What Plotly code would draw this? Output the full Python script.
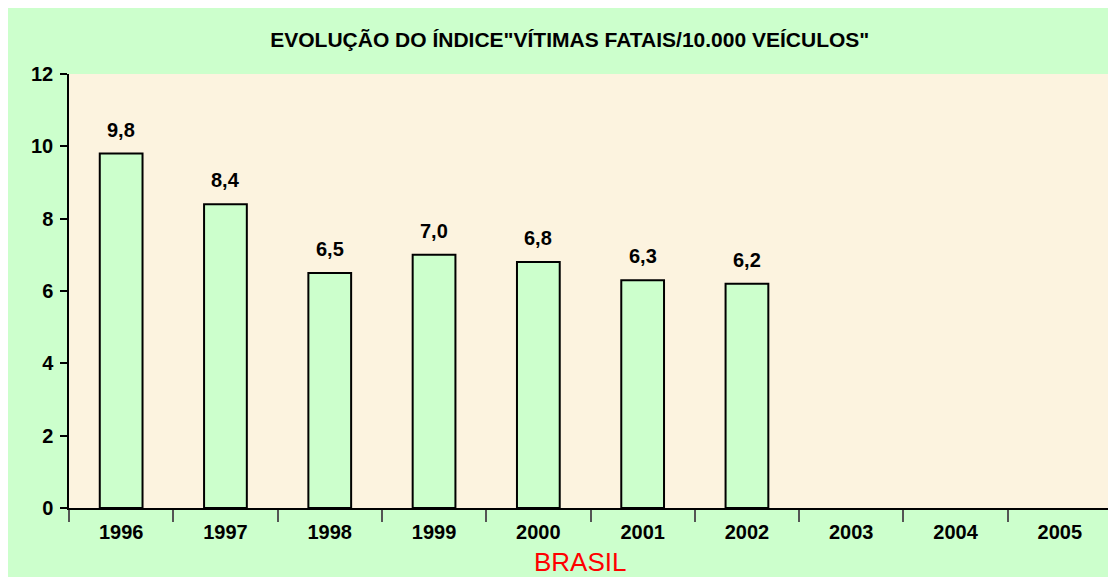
import plotly.graph_objects as go

years = ["1996", "1997", "1998", "1999", "2000", "2001", "2002", "2003", "2004", "2005"]
values = [9.8, 8.4, 6.5, 7.0, 6.8, 6.3, 6.2, None, None, None]
title_text = "EVOLUÇÃO DO ÍNDICE\"VÍTIMAS FATAIS/10.000 VEÍCULOS\""
y_ticks = [0, 2, 4, 6, 8, 10, 12]

GREEN = "#CCFFCC"
PARCH = "#FCF3DF"
FONT = "Arial, Liberation Sans, sans-serif"

W, H = 1108, 569

fig = go.Figure()
fig.add_trace(go.Bar(
    x=years, y=values,
    marker=dict(color=GREEN, line=dict(color="black", width=2)),
    hoverinfo="skip",
))

for i, v in enumerate(values):
    if v is None:
        continue
    fig.add_annotation(
        x=i, y=v, xref="x", yref="y",
        text=f"{v:.1f}".replace(".", ","),
        showarrow=False, yanchor="bottom", yshift=11,
        font=dict(family=FONT, size=20, color="black", weight="bold"),
    )

fig.add_annotation(
    x=0.49, y=-0.124, xref="paper", yref="paper",
    text="BRASIL", showarrow=False, xanchor="center", yanchor="middle",
    font=dict(family=FONT, size=26, color="#FF0000"),
)

fig.update_layout(
    width=W, height=H,
    margin=dict(l=61, r=4, t=66, b=69),
    paper_bgcolor=GREEN,
    plot_bgcolor=PARCH,
    bargap=0.59,
    showlegend=False,
    title=dict(text=title_text, x=0.507, xanchor="center", y=1 - 32 / H, yanchor="middle",
               font=dict(family=FONT, size=21, color="black", weight="bold")),
    font=dict(family=FONT, color="black"),
)
fig.update_xaxes(
    type="category", categoryorder="array", categoryarray=years,
    range=[-0.5, len(years) - 0.5], autorange=False,
    showline=True, linecolor="black", linewidth=1.5,
    ticks="outside", tickson="boundaries", ticklen=12, tickcolor="#555555", tickwidth=1.5,
    showgrid=False, zeroline=False, tickangle=0, ticklabelstandoff=5,
    tickfont=dict(family=FONT, size=20, color="black", weight="bold"),
)
fig.update_yaxes(
    range=[0, 12], autorange=False, tickvals=y_ticks,
    showline=True, linecolor="black", linewidth=1.5,
    ticks="outside", ticklen=7, tickcolor="black", tickwidth=1.5,
    showgrid=False, zeroline=False, ticklabelstandoff=3,
    tickfont=dict(family=FONT, size=20, color="black", weight="bold"),
)

fig.write_html("out.html")
